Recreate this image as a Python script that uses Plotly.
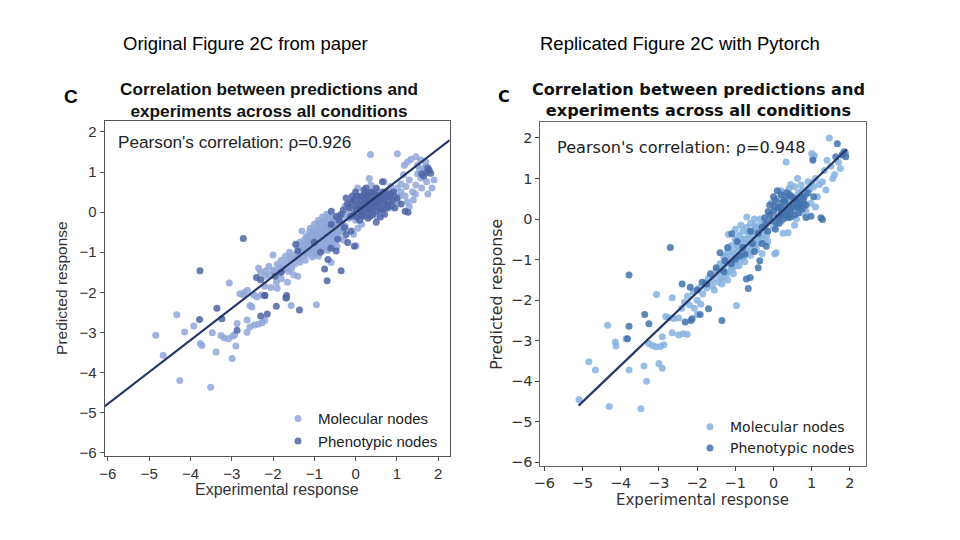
import plotly.graph_objects as go

# Figure 2C: paper version (left) and the PyTorch replication (right).
# Points are (experimental, predicted) pairs.

orig_mol = [
    (-4.84, -3.07), (-4.66, -3.57), (-4.33, -2.56), (-4.26, -4.20), (-4.14, -2.99),
    (-3.92, -2.84), (-3.76, -3.28), (-3.72, -3.33), (-3.51, -4.37), (-3.47, -3.01),
    (-3.38, -3.49), (-3.26, -3.08), (-3.06, -1.77), (-3.18, -3.14), (-3.08, -3.16),
    (-2.98, -3.10), (-2.93, -3.06), (-2.99, -3.65), (-2.90, -3.34), (-2.87, -2.78),
    (-2.69, -2.00), (-2.63, -3.00), (-2.63, -2.69), (-2.56, -2.87), (-2.45, -2.82),
    (-2.35, -2.79), (-2.26, -2.76), (-2.20, -2.70), (-2.51, -2.37), (-2.56, -2.33),
    (-2.39, -2.12), (-2.29, -2.07), (-2.80, -2.04), (-2.72, -2.06), (-2.62, -1.95),
    (-2.47, -2.07), (-2.20, -1.85), (-2.05, -1.88), (-1.92, -1.75), (-1.90, -1.90),
    (-2.30, -1.50), (-2.18, -1.47), (-2.10, -1.56), (-2.00, -1.45), (-1.85, -1.52),
    (-1.75, -1.43), (-1.62, -1.48), (-1.50, -1.56), (-1.40, -1.60), (-1.80, -1.66),
    (-1.65, -1.75), (-2.00, -1.07), (-1.56, -2.33), (-1.67, -2.15), (-0.95, -2.31),
    (-0.59, -1.26), (-1.90, -1.30), (-1.80, -1.20), (-1.75, -1.35), (-1.70, -1.10),
    (-1.65, -1.25), (-1.60, -1.00), (-1.55, -1.40), (-1.50, -1.15), (-2.10, -1.35),
    (-1.45, -1.05), (-1.40, -0.90), (-1.38, -1.15), (-1.32, -0.98), (-1.30, -0.82),
    (-1.28, -1.10), (-1.25, -0.70), (-1.22, -0.92), (-1.20, -1.02), (-1.18, -0.78),
    (-1.15, -0.60), (-1.12, -0.85), (-1.10, -0.95), (-1.08, -0.70), (-1.05, -0.55),
    (-1.02, -0.80), (-1.00, -0.65), (-0.98, -0.90), (-0.96, -0.48), (-0.94, -0.72),
    (-0.92, -0.58), (-0.90, -0.82), (-0.88, -0.40), (-0.86, -0.66), (-0.84, -0.52),
    (-0.82, -0.75), (-0.80, -0.35), (-0.78, -0.60), (-0.76, -0.45), (-0.74, -0.70),
    (-0.72, -0.28), (-0.70, -0.55), (-0.68, -0.40), (-0.66, -0.62), (-0.64, -0.22),
    (-0.62, -0.48), (-0.60, -0.35), (-0.58, -0.58), (-0.55, -0.15), (-0.52, -0.42),
    (-0.50, -0.30), (-0.48, -0.52), (-0.45, -0.20), (-0.42, -0.38), (-0.40, -0.62),
    (-0.38, -0.10), (-0.35, -0.28), (-0.32, -0.48), (-0.30, -0.18), (-0.28, -0.70),
    (-0.25, -0.35), (-0.20, -0.05), (-1.00, -1.05), (-0.90, -1.10), (-0.80, -0.95),
    (-0.70, -0.88), (-0.60, -0.80), (-0.50, -0.72), (-0.45, -0.85), (-1.10, -0.40),
    (-1.00, -0.30), (-0.90, -0.20), (-0.80, -0.12), (-0.70, -0.05), (-1.30, -0.47),
    (-1.05, -1.12), (0.01, -0.84), (-0.10, 0.10), (0.00, -0.20), (0.10, 0.30),
    (0.20, -0.10), (0.30, 0.45), (0.40, 0.05), (0.50, 0.55), (0.60, 0.20),
    (0.70, 0.40), (0.80, 0.10), (0.90, 0.45), (1.00, 0.25), (1.10, 0.50),
    (1.20, 0.40), (0.00, 0.35), (-0.15, -0.15), (0.15, -0.30), (0.50, -0.10),
    (1.40, 0.30), (1.50, 0.95), (1.60, 0.60), (1.75, 0.45), (1.85, 0.60),
    (1.70, 1.15), (1.55, 1.05), (-0.05, -0.55), (0.05, -0.40), (0.36, 1.44),
    (1.01, 1.46), (1.34, 1.32), (1.46, 1.38), (1.58, 1.30), (1.70, 1.26),
    (1.50, 1.17), (1.26, 1.26), (1.64, 1.09), (1.18, 1.17), (1.16, 0.93),
    (1.90, 0.80), (1.72, 0.76), (1.58, 0.85), (0.33, 0.84), (0.37, 0.68),
    (0.69, 0.76), (0.85, 0.64), (1.01, 0.60), (1.22, 0.64), (1.38, 0.51),
    (1.46, 0.68), (1.30, 0.14), (0.93, 0.27), (1.05, 0.39), (0.05, 0.60),
    (1.30, 0.80), (0.80, 0.55), (0.45, 0.25), (0.25, 0.15), (-0.25, 0.15),
    (-1.35, -0.75), (-1.25, -0.85), (-1.15, -1.05), (-1.05, -0.92), (-0.98, -0.58),
    (-0.95, -0.78), (-0.90, -0.68), (-0.87, -0.50), (-0.83, -0.88), (-0.79, -0.48),
    (-0.77, -0.82), (-0.73, -0.38), (-0.71, -0.65), (-0.67, -0.50), (-0.65, -0.75),
    (-0.63, -0.32), (-0.61, -0.60), (-0.57, -0.45), (-0.55, -0.68), (-0.53, -0.25),
    (-0.51, -0.55), (-0.47, -0.38), (-0.43, -0.50), (-0.41, -0.28), (-0.37, -0.42),
    (-0.33, -0.35), (-1.12, -0.50), (-1.02, -0.42), (-0.93, -0.35), (-0.85, -0.28),
    (-0.75, -0.20), (-0.65, -0.12), (-1.20, -0.62), (-1.08, -0.75), (-0.68, -0.95),
    (-0.55, -0.88), (-0.97, -1.00), (-1.22, -1.20), (-1.35, -1.25), (-1.48, -1.30),
    (-1.58, -1.15), (-1.68, -1.40), (-1.85, -1.38), (-1.95, -1.48), (-2.20, -1.60),
    (-2.35, -1.40), (-1.15, -0.70), (1.10, 0.70), (1.25, 0.25), (1.45, 0.45),
]

orig_phe = [
    (-3.77, -1.46), (-2.72, -0.66), (-3.36, -2.40), (-3.78, -2.68), (-3.24, -2.66),
    (-2.87, -2.95), (-2.40, -1.63), (-2.30, -1.69), (-2.30, -2.59), (-2.14, -2.54),
    (-2.20, -2.08), (-1.92, -2.35), (-1.69, -2.14), (-1.36, -2.44), (-1.45, -0.80),
    (-1.40, -0.97), (-0.69, -1.71), (-0.75, -1.42), (-0.67, -1.18), (-0.35, -1.46),
    (-0.47, -0.97), (-1.95, -1.60), (-1.80, -1.50), (-1.67, -2.08), (-2.20, -2.08),
    (-0.59, 0.02), (-0.47, -0.10), (-0.27, -0.39), (-0.23, -0.56), (-0.11, -0.47),
    (-0.03, -0.85), (-0.19, -0.76), (-0.59, -0.31), (-0.23, 0.35), (-1.00, -0.75),
    (-0.85, -1.00), (-0.60, -0.90), (-0.43, -0.68), (-0.15, 0.10), (-0.10, 0.25),
    (-0.05, -0.05), (0.00, 0.15), (0.05, 0.40), (0.10, 0.05), (0.12, 0.30),
    (0.15, -0.10), (0.20, 0.20), (0.22, 0.45), (0.25, 0.00), (0.30, 0.30),
    (0.32, 0.10), (0.35, 0.50), (0.40, 0.20), (0.42, -0.05), (0.45, 0.35),
    (0.50, 0.15), (0.55, 0.42), (0.60, 0.05), (0.62, 0.30), (0.65, 0.50),
    (0.70, 0.20), (0.75, 0.38), (0.80, 0.25), (0.85, 0.45), (0.90, 0.30),
    (0.95, 0.10), (0.00, 0.50), (0.10, -0.20), (0.30, -0.15), (0.50, -0.25),
    (0.70, -0.05), (0.20, 0.55), (-0.30, 0.05), (-0.40, -0.20), (0.65, 0.76),
    (1.20, 0.02), (1.27, 0.00), (1.78, 1.05), (1.82, 0.97), (1.72, 0.99),
    (1.65, 0.90), (1.00, 0.35), (1.10, 0.20), (0.35, 0.05), (0.55, 0.25),
    (0.15, 0.12), (0.45, 0.48), (0.75, 0.10), (-0.08, 0.40), (0.28, 0.40),
    (-0.05, 0.30), (0.02, 0.05), (0.08, 0.20), (0.14, 0.40), (0.18, -0.05),
    (0.24, 0.30), (0.27, 0.08), (0.33, 0.20), (0.38, 0.38), (0.43, 0.12),
    (0.48, 0.28), (0.52, 0.02), (0.57, 0.20), (0.60, 0.38), (0.66, 0.08),
    (0.68, 0.30), (0.72, 0.50), (0.78, 0.18), (0.82, 0.40), (0.88, 0.15),
    (0.92, 0.50), (0.40, 0.50), (0.12, -0.08), (0.02, -0.12), (-0.12, -0.10),
    (-0.20, 0.20), (0.25, 0.60), (0.50, 0.60), (0.35, -0.10), (0.60, -0.12),
    (-0.35, -0.05), (1.75, 1.10), (1.60, 0.95),
]

repl_mol = [
    (-5.09, -4.45), (-4.83, -3.52), (-4.66, -3.72), (-4.34, -2.62), (-4.30, -4.62),
    (-4.14, -3.03), (-4.12, -3.13), (-3.86, -2.95), (-3.78, -3.72), (-3.47, -4.68),
    (-3.39, -3.62), (-3.32, -4.00), (-3.26, -3.07), (-3.17, -3.12), (-3.08, -3.15),
    (-2.96, -3.14), (-2.87, -3.10), (-3.00, -3.56), (-2.91, -3.68), (-2.91, -2.90),
    (-3.06, -1.86), (-2.65, -1.94), (-2.65, -2.80), (-2.48, -2.86), (-2.37, -2.83),
    (-2.26, -2.84), (-2.82, -2.40), (-2.74, -2.43), (-2.61, -2.45), (-2.48, -2.44),
    (-2.33, -2.05), (-2.20, -2.12), (-2.07, -2.20), (-1.99, -2.35), (-0.97, -2.13),
    (-2.40, -2.20), (-2.25, -1.90), (-2.10, -1.80), (-1.95, -1.70), (-1.80, -1.55),
    (-1.70, -1.45), (-1.60, -1.65), (-1.50, -1.38), (-1.45, -1.55), (-1.35, -1.25),
    (-1.30, -1.45), (-1.25, -1.10), (-1.20, -1.30), (-1.15, -0.95), (-1.10, -1.20),
    (-1.05, -0.85), (-1.00, -1.05), (-0.95, -0.70), (-0.90, -0.95), (-0.85, -0.60),
    (-0.80, -0.85), (-0.75, -0.50), (-0.70, -0.75), (-0.65, -0.40), (-0.60, -0.65),
    (-0.55, -0.30), (-0.50, -0.55), (-0.45, -0.20), (-0.40, -0.45), (-0.35, -0.15),
    (-0.30, -0.40), (-0.25, -0.05), (-0.20, -0.30), (-1.40, -1.10), (-1.30, -0.95),
    (-1.20, -0.80), (-1.10, -0.65), (-1.00, -0.50), (-0.90, -0.40), (-0.80, -0.30),
    (-0.70, -0.20), (-0.60, -0.10), (-1.50, -1.25), (-1.35, -1.60), (-1.20, -1.50),
    (-1.05, -1.35), (-0.90, -1.15), (-0.75, -1.05), (-0.60, -0.90), (-0.45, -0.75),
    (-1.18, -0.38), (-1.00, -0.25), (-0.85, -0.15), (-0.70, 0.05), (-0.50, 0.00),
    (-0.40, -0.60), (-0.30, -0.85), (-0.15, -0.55), (0.07, -0.83), (0.03, -0.86),
    (0.38, -0.34), (-0.10, 0.10), (0.00, -0.20), (0.10, 0.25), (0.20, -0.05),
    (0.30, 0.40), (0.40, 0.10), (0.50, 0.55), (0.60, 0.30), (0.70, 0.60),
    (0.80, 0.45), (0.90, 0.75), (0.98, 0.39), (1.00, 0.90), (1.10, 1.00),
    (1.20, 0.85), (0.33, 1.41), (1.46, 2.00), (1.07, 1.57), (1.00, 1.62),
    (1.03, 1.50), (1.33, 1.20), (1.40, 1.45), (1.50, 1.30), (1.60, 1.10),
    (1.55, 1.00), (1.28, 0.92), (1.37, 0.72), (0.63, 1.00), (0.72, 0.84),
    (0.90, 0.92), (1.70, 1.40), (1.80, 1.60), (1.89, 1.62), (1.75, 1.25),
    (0.20, 0.70), (0.45, 0.85), (0.15, 0.50), (-0.05, 0.40), (0.60, 0.00),
    (0.75, 0.15), (0.55, -0.15), (0.25, -0.35), (1.15, 0.55), (0.85, 0.20),
    (-1.45, -1.30), (-1.38, -1.45), (-1.30, -1.15), (-1.22, -1.35), (-1.15, -1.05),
    (-1.08, -1.25), (-1.02, -0.90), (-0.98, -1.15), (-0.92, -0.80), (-0.87, -1.00),
    (-0.82, -0.70), (-0.78, -0.95), (-0.72, -0.60), (-0.68, -0.85), (-0.62, -0.50),
    (-0.58, -0.78), (-0.52, -0.42), (-0.48, -0.65), (-0.42, -0.32), (-0.38, -0.55),
    (-0.32, -0.25), (-0.28, -0.50), (-0.22, -0.15), (-0.18, -0.42), (-0.12, -0.05),
    (-1.25, -0.90), (-1.10, -0.80), (-0.95, -0.60), (-0.80, -0.50), (-0.65, -0.30),
    (-0.50, -0.15), (-0.35, 0.00), (-1.60, -1.50), (-1.75, -1.70), (-1.85, -1.85),
    (-1.55, -1.75), (-2.00, -2.00), (-1.90, -2.10), (0.10, 0.50), (0.25, 0.65),
    (0.40, 0.75), (0.55, 0.80), (0.65, 0.65), (0.75, 0.70), (0.85, 0.60),
    (0.95, 0.75), (1.05, 0.80), (0.50, 0.25), (0.65, 0.45), (0.80, 0.30),
    (1.10, 0.30),
]

repl_phe = [
    (-2.70, -0.70), (-3.78, -1.38), (-3.37, -2.35), (-3.78, -2.64), (-3.82, -2.95),
    (-3.26, -2.58), (-2.31, -2.54), (-2.16, -2.50), (-2.13, -2.46), (-1.92, -2.35),
    (-1.70, -2.21), (-1.35, -2.50), (-2.39, -1.60), (-2.18, -1.68), (-1.87, -1.56),
    (-0.71, -1.48), (-0.66, -1.71), (-0.61, -1.44), (-1.40, -0.83), (-1.27, -1.03),
    (0.38, 0.03), (0.85, 0.04), (0.98, 0.07), (1.24, 0.03), (1.28, -0.01),
    (1.67, 1.86), (1.63, 1.54), (1.80, 1.58), (1.89, 1.54), (1.85, 1.66),
    (1.03, 1.45), (-0.19, -0.67), (-1.09, -0.36), (-0.36, -1.03), (-0.40, -1.20),
    (-0.75, -0.87), (-0.88, -0.91), (-1.00, -0.99), (-1.50, -1.20), (-1.65, -1.35),
    (-1.75, -1.60), (-2.00, -1.75), (-0.14, 0.19), (-0.23, 0.03), (-0.10, 0.35),
    (-0.05, -0.05), (0.00, 0.20), (0.05, 0.45), (0.10, 0.05), (0.12, 0.30),
    (0.15, -0.10), (0.20, 0.15), (0.22, 0.40), (0.25, 0.00), (0.30, 0.25),
    (0.32, 0.50), (0.35, 0.10), (0.40, 0.35), (0.42, 0.60), (0.45, 0.20),
    (0.50, 0.40), (0.55, 0.10), (0.58, 0.50), (0.62, 0.30), (0.65, 0.15),
    (0.70, 0.40), (0.75, 0.25), (0.80, 0.55), (0.85, 0.35), (0.05, -0.25),
    (-0.15, -0.30), (-0.30, -0.20), (0.00, 0.55), (0.20, 0.60), (-0.40, -0.35),
    (-0.55, -0.60), (-0.95, -0.55), (-1.20, -0.70), (1.05, 0.55), (0.90, 0.65),
    (-0.08, 0.10), (0.02, 0.32), (0.08, -0.10), (0.18, 0.28), (0.28, 0.10),
    (0.28, 0.45), (0.38, 0.22), (0.48, 0.55), (0.52, 0.30), (0.60, 0.45),
    (0.68, 0.30), (0.72, 0.55), (0.78, 0.40), (0.15, 0.05), (0.45, 0.05),
    (-0.20, -0.12), (0.10, 0.70), (0.35, 0.65), (-0.60, -0.30), (-0.80, -0.70),
    (-1.30, -1.30), (-1.10, -1.10), (-0.50, -0.80), (-0.30, -0.60),
]

orig_fit_x = [-6.08, 2.28]
orig_fit_y = [-4.85, 1.80]
repl_fit_x = [-5.10, 1.92]
repl_fit_y = [-4.60, 1.72]

ticks = [-6, -5, -4, -3, -2, -1, 0, 1, 2]

orig_colors = ("#8FA7D9", "#4D64A6")
repl_colors = ("#86B3E0", "#4272AE")
orig_font = "Liberation Sans, Arial, sans-serif"
repl_font = "DejaVu Sans, sans-serif"


def unzip(pairs):
    return [p[0] for p in pairs], [p[1] for p in pairs]


fig = go.Figure()

panels = [
    (orig_mol, orig_phe, orig_fit_x, orig_fit_y, orig_colors, "x", "y", "legend"),
    (repl_mol, repl_phe, repl_fit_x, repl_fit_y, repl_colors, "x2", "y2", "legend2"),
]
for mol, phe, fx, fy, cols, xa, ya, leg in panels:
    for pts, name, col in [(mol, "Molecular nodes", cols[0]),
                           (phe, "Phenotypic nodes", cols[1])]:
        px_, py_ = unzip(pts)
        fig.add_trace(go.Scatter(
            x=px_, y=py_, mode="markers", name=name, xaxis=xa, yaxis=ya,
            legend=leg,
            marker=dict(size=7, color=col, opacity=0.85, line_width=0)))
    fig.add_trace(go.Scatter(
        x=fx, y=fy, mode="lines", xaxis=xa, yaxis=ya, showlegend=False,
        line=dict(color="#26386A", width=2.2)))

axis_common = dict(
    tickmode="array", tickvals=ticks, ticktext=[str(t).replace("-", "\u2212") for t in ticks],
    ticks="outside", ticklen=4, tickwidth=1, showgrid=False, zeroline=False,
    showline=True, mirror=True, linewidth=1)

fig.update_layout(
    width=960, height=540, margin=dict(l=0, r=0, t=0, b=0),
    plot_bgcolor="white", paper_bgcolor="white",
    xaxis=dict(domain=[98.3 / 960, 446 / 960], range=[-6.08, 2.28], anchor="y",
               linecolor="#555555", tickcolor="#555555",
               tickfont=dict(family=orig_font, size=15, color="#333333"), **axis_common),
    yaxis=dict(domain=[1 - 460 / 540, 1 - 122.3 / 540], range=[-6.08, 2.27], anchor="x",
               linecolor="#555555", tickcolor="#555555",
               tickfont=dict(family=orig_font, size=15, color="#333333"), **axis_common),
    xaxis2=dict(domain=[537.3 / 960, 865.7 / 960], range=[-6.1, 2.43], anchor="y2",
                linecolor="#666666", tickcolor="#444444",
                tickfont=dict(family=repl_font, size=14.5, color="#333333"), **axis_common),
    yaxis2=dict(domain=[1 - 470 / 540, 1 - 123.3 / 540], range=[-6.08, 2.39], anchor="x2",
                linecolor="#666666", tickcolor="#444444",
                tickfont=dict(family=repl_font, size=14.5, color="#333333"), **axis_common),
    legend=dict(x=273 / 960, y=1 - 406 / 540, xanchor="left", yanchor="top",
                bgcolor="rgba(0,0,0,0)", itemwidth=30,
                font=dict(family=orig_font, size=15, color="#222222")),
    legend2=dict(x=688 / 960, y=1 - 415 / 540, xanchor="left", yanchor="top",
                 bgcolor="rgba(0,0,0,0)", itemwidth=30,
                 font=dict(family=repl_font, size=14, color="#222222")),
)

notes = [
    # headers above each panel
    ("Original Figure 2C from paper", 240, 44, orig_font, 18.5, False, "#000000"),
    ("Replicated Figure 2C with Pytorch", 678, 44, orig_font, 18.5, False, "#000000"),
    # panel letters
    ("C", 64, 97, orig_font, 19, True, "#000000"),
    ("C", 501, 97, repl_font, 16, True, "#000000"),
    # panel titles
    ("Correlation between predictions and<br>experiments across all conditions",
     264, 100.5, orig_font, 17.2, True, "#111111"),
    ("Correlation between predictions and<br>experiments across all conditions",
     697, 100.5, repl_font, 16.1, True, "#111111"),
    # correlation text
    ("Pearson's correlation: \u03c1=0.926", 229, 143, orig_font, 17.2, False, "#222222"),
    ("Pearson's correlation: \u03c1=0.948", 679, 149, repl_font, 16.1, False, "#222222"),
    # axis titles
    ("Experimental response", 272, 494, orig_font, 16, False, "#333333"),
    ("Experimental response", 701, 505, repl_font, 15, False, "#333333"),
]
annotations = []
for text, x, y, fam, size, bold, col in notes:
    annotations.append(dict(
        text=f"<b>{text}</b>" if bold else text, x=x / 960, y=1 - y / 540,
        xref="paper", yref="paper", showarrow=False, xanchor="center", yanchor="middle",
        font=dict(family=fam, size=size, color=col)))
annotations.append(dict(text="Predicted response", x=55 / 960, y=1 - 291 / 540,
                        xref="paper", yref="paper", showarrow=False, textangle=-90,
                        xanchor="center", yanchor="middle",
                        font=dict(family=orig_font, size=15.5, color="#333333")))
annotations.append(dict(text="Predicted response", x=493 / 960, y=1 - 297 / 540,
                        xref="paper", yref="paper", showarrow=False, textangle=-90,
                        xanchor="center", yanchor="middle",
                        font=dict(family=repl_font, size=15.8, color="#333333")))
fig.update_layout(annotations=annotations)

fig.write_html("out.html", config={"displayModeBar": False},
               post_script="document.body.style.margin='0';")
